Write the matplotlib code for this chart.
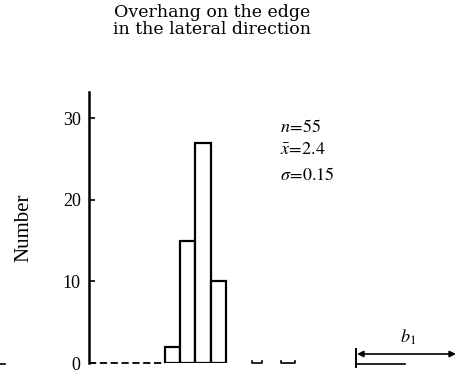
import matplotlib
matplotlib.use("Agg")
import matplotlib.pyplot as plt
from matplotlib.lines import Line2D

# histogram of overhang b1 (bin edges in cm, counts)
bin_edges = [1.9, 2.1, 2.3, 2.5, 2.7]
counts = [2, 15, 27, 10]
y_ticks = [0, 10, 20, 30]
stats = ["$n\\!=\\!55$", "$\\bar{x}\\!=\\!2.4$", "$\\sigma\\!=\\!0.15$"]

plt.rcParams["font.family"] = ["Liberation Serif", "DejaVu Serif"]
plt.rcParams["mathtext.fontset"] = "stix"

W, H = 457, 371
fig = plt.figure(figsize=(W / 100, H / 100), dpi=100)
# axes from x=89px to right edge, baseline at y=363px, top at 92px
ax = fig.add_axes([89 / W, (H - 363) / H, (W - 89) / W, 271 / H])

widths = [b - a for a, b in zip(bin_edges[:-1], bin_edges[1:])]
ax.bar(bin_edges[:-1], counts, width=widths, align="edge",
       facecolor="white", edgecolor="black", linewidth=1.6, zorder=3)

ax.set_xlim(0.9, 0.9 + (W - 89) / 76.0)
ax.set_ylim(0, 33.2)
ax.set_yticks(y_ticks)
ax.tick_params(axis="y", direction="in", length=4, width=1.2, labelsize=13, pad=6)
ax.set_xticks([])
for s in ["top", "right", "bottom"]:
    ax.spines[s].set_visible(False)
ax.spines["left"].set_linewidth(1.8)

# broken baseline as seen on the scan
ax.plot([0.9, 1.9], [0, 0], color="black", lw=1.3, ls=(0, (4, 2)), clip_on=False)
for x0, x1 in [(3.05, 3.18), (3.42, 3.61)]:
    ax.plot([x0, x0, x1, x1], [0.3, 0, 0, 0.3], color="black", lw=1.2, clip_on=False)

ax.set_ylabel("Number", fontsize=15)
ax.yaxis.set_label_coords(-56 / (W - 89), 0.5)

for s, y in zip(stats, [128, 150, 175]):
    fig.text(280 / W, 1 - y / H, s, fontsize=13, va="center", ha="left")

fig.text(212 / W, 1 - 21 / H, "Overhang on the edge\nin the lateral direction",
         family=["DejaVu Serif"], fontsize=12.5, ha="center", va="center",
         linespacing=0.95)

# partial b1 dimension sketch at lower right
fig.text(408 / W, 1 - 337 / H, "$b_1$", fontsize=13, ha="center", va="center")
fig.add_artist(Line2D([356 / W, 405 / W], [1 - 364 / H] * 2, color="black", lw=1.2))
fig.add_artist(Line2D([356 / W, 356 / W], [1 - 349 / H, 1 - 367 / H], color="black", lw=1.4))
fig.add_artist(Line2D([0, 5 / W], [1 - 364 / H] * 2, color="black", lw=1.2))
ax.annotate("", xy=(456, 371 - 354), xytext=(357, 371 - 354), xycoords="figure pixels",
            arrowprops=dict(arrowstyle="<|-|>", color="black", lw=1.2,
                            mutation_scale=9, shrinkA=0, shrinkB=0))

fig.savefig("out.png", dpi=100)
